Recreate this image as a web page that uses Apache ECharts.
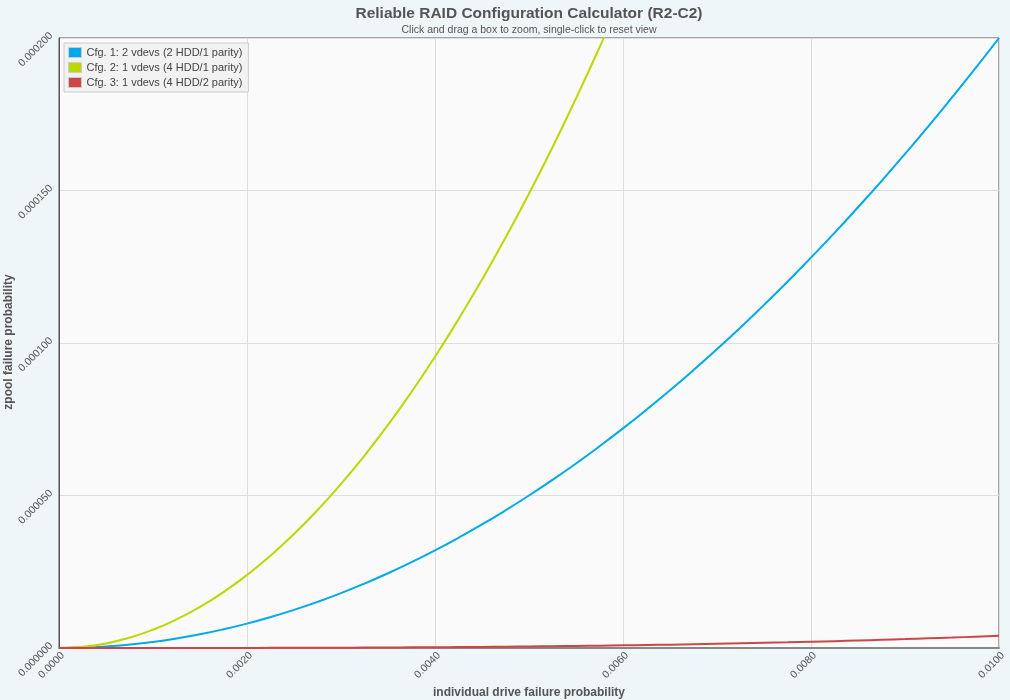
<!DOCTYPE html>
<html>
<head>
<meta charset="utf-8">
<script src="https://cdn.jsdelivr.net/npm/echarts@6/dist/echarts.min.js"></script>
<style>
html,body{margin:0;padding:0;background:#eef6f9;}
#c{width:1010px;height:700px;}
</style>
</head>
<body>
<div id="c"></div>
<script>
// individual drive failure probability (x), in thousandths
const driveP_milli = [0, 0.25, 0.5, 0.75, 1, 1.25, 1.5, 1.75, 2, 2.25, 2.5, 2.75, 3, 3.25, 3.5, 3.75, 4, 4.25, 4.5, 4.75, 5,
                      5.25, 5.5, 5.75, 6, 6.25, 6.5, 6.75, 7, 7.25, 7.5, 7.75, 8, 8.25, 8.5, 8.75, 9, 9.25, 9.5, 9.75, 10];
// zpool failure probability, in millionths
const cfg1_micro = [0, 0.13, 0.5, 1.13, 2, 3.13, 4.5, 6.13, 8, 10.13, 12.5, 15.13, 18, 21.13, 24.5, 28.13, 32, 36.13, 40.5, 45.13, 50,
                    55.13, 60.5, 66.13, 72, 78.13, 84.5, 91.13, 98, 105.1, 112.5, 120.1, 128, 136.1, 144.5, 153.1, 162, 171.1, 180.5, 190.1, 200];
const cfg2_micro = [0, 0.38, 1.5, 3.37, 5.99, 9.36, 13.47, 18.33, 23.94, 30.28, 37.38, 45.21, 53.78, 63.1, 73.16, 83.95, 95.49, 107.76, 120.77, 134.52, 149,
                    164.2, 180.2, 196.9, 214.3, 232.4, 251.3, 270.9, 291.3, 312.3, 334.1, 356.7, 379.9, 403.9, 428.6, 454, 480.2, 507, 534.6, 563, 592];
const cfg3_micro = [0, 0.0001, 0.0005, 0.0017, 0.004, 0.0078, 0.0135, 0.0214, 0.032, 0.0456, 0.0625, 0.0832, 0.108, 0.137, 0.1715, 0.211, 0.256, 0.307, 0.3645, 0.4287, 0.5,
                    0.579, 0.6655, 0.76, 0.864, 0.977, 1.0985, 1.23, 1.372, 1.524, 1.6875, 1.862, 2.048, 2.246, 2.4565, 2.68, 2.916, 3.166, 3.4295, 3.707, 4.0];
const xTicks = ['0.0000', '0.0020', '0.0040', '0.0060', '0.0080', '0.0100'];
const seriesNames = ['Cfg. 1: 2 vdevs (2 HDD/1 parity)', 'Cfg. 2: 1 vdevs (4 HDD/1 parity)', 'Cfg. 3: 1 vdevs (4 HDD/2 parity)'];
const seriesColors = ['#00a9e9', '#bfd700', '#cc4646'];
const titleText = 'Reliable RAID Configuration Calculator (R2-C2)';
const subtitleText = 'Click and drag a box to zoom, single-click to reset view';
const xAxisName = 'individual drive failure probability';
const yAxisName = 'zpool failure probability';

const pair = ys => driveP_milli.map((x, i) => [x / 1000, ys[i] / 1e6]);
const all = [cfg1_micro, cfg2_micro, cfg3_micro];
const font = 'Liberation Sans, Arial, sans-serif';

const chart = echarts.init(document.getElementById('c'), null, {renderer: 'canvas'});
chart.setOption({
  backgroundColor: '#eef6f9',
  animation: false,
  textStyle: {fontFamily: font},
  title: [
    {text: titleText, left: 529, textAlign: 'center', top: 6, padding: 0,
     textStyle: {fontFamily: font, fontSize: 15.5, fontWeight: 'bold', color: '#555'}},
    {text: subtitleText, left: 529, textAlign: 'center', top: 25, padding: 0,
     textStyle: {fontFamily: font, fontSize: 10.5, fontWeight: 'normal', color: '#555'}}
  ],
  legend: {
    orient: 'vertical', left: 64, top: 43,
    icon: 'rect', itemWidth: 13, itemHeight: 10, itemGap: 4,
    padding: [4, 6, 4, 4],
    backgroundColor: '#f2f2f2', borderColor: '#cccccc', borderWidth: 1,
    textStyle: {fontFamily: font, fontSize: 11, color: '#444'},
    data: seriesNames.map((n, i) => ({name: n, itemStyle: {color: seriesColors[i], borderColor: '#ccc', borderWidth: 1}}))
  },
  grid: {left: 59, right: 11, top: 38, bottom: 52, show: true, containLabel: false,
         outerBoundsMode: 'none',
         backgroundColor: '#fafafa', borderColor: '#555', borderWidth: 1},
  graphic: [
    {type: 'text', x: 529, y: 693, z: 10,
     style: {text: xAxisName, font: 'bold 12px ' + font, fill: '#555', align: 'center', verticalAlign: 'middle'}},
    {type: 'text', x: 9, y: 342, rotation: Math.PI / 2, z: 10,
     style: {text: yAxisName, font: 'bold 12px ' + font, fill: '#555', align: 'center', verticalAlign: 'middle'}}
  ],
  xAxis: {
    type: 'value', min: 0, max: 0.01, interval: 0.002,
    axisLine: {show: true, lineStyle: {color: '#888', width: 2}},
    axisTick: {show: false},
    splitLine: {show: true, lineStyle: {color: '#dddddd'}},
    axisLabel: {rotate: 45, fontSize: 10.5, color: '#555', margin: 2, verticalAlign: 'top',
                formatter: v => xTicks[Math.round(v / 0.002)]}
  },
  yAxis: {
    type: 'value', min: 0, max: 0.0002, interval: 0.00005,
    axisLine: {show: true, lineStyle: {color: '#555', width: 1}},
    axisTick: {show: false},
    splitLine: {show: true, lineStyle: {color: '#dddddd'}},
    axisLabel: {rotate: 45, fontSize: 10.5, color: '#555', margin: 4, verticalAlign: 'bottom',
                formatter: v => v.toFixed(6)}
  },
  series: all.map((ys, i) => ({
    name: seriesNames[i], type: 'line', data: pair(ys), smooth: true,
    showSymbol: false, clip: true,
    lineStyle: {width: 2, color: seriesColors[i]},
    itemStyle: {color: seriesColors[i]}
  }))
});
</script>
</body>
</html>
